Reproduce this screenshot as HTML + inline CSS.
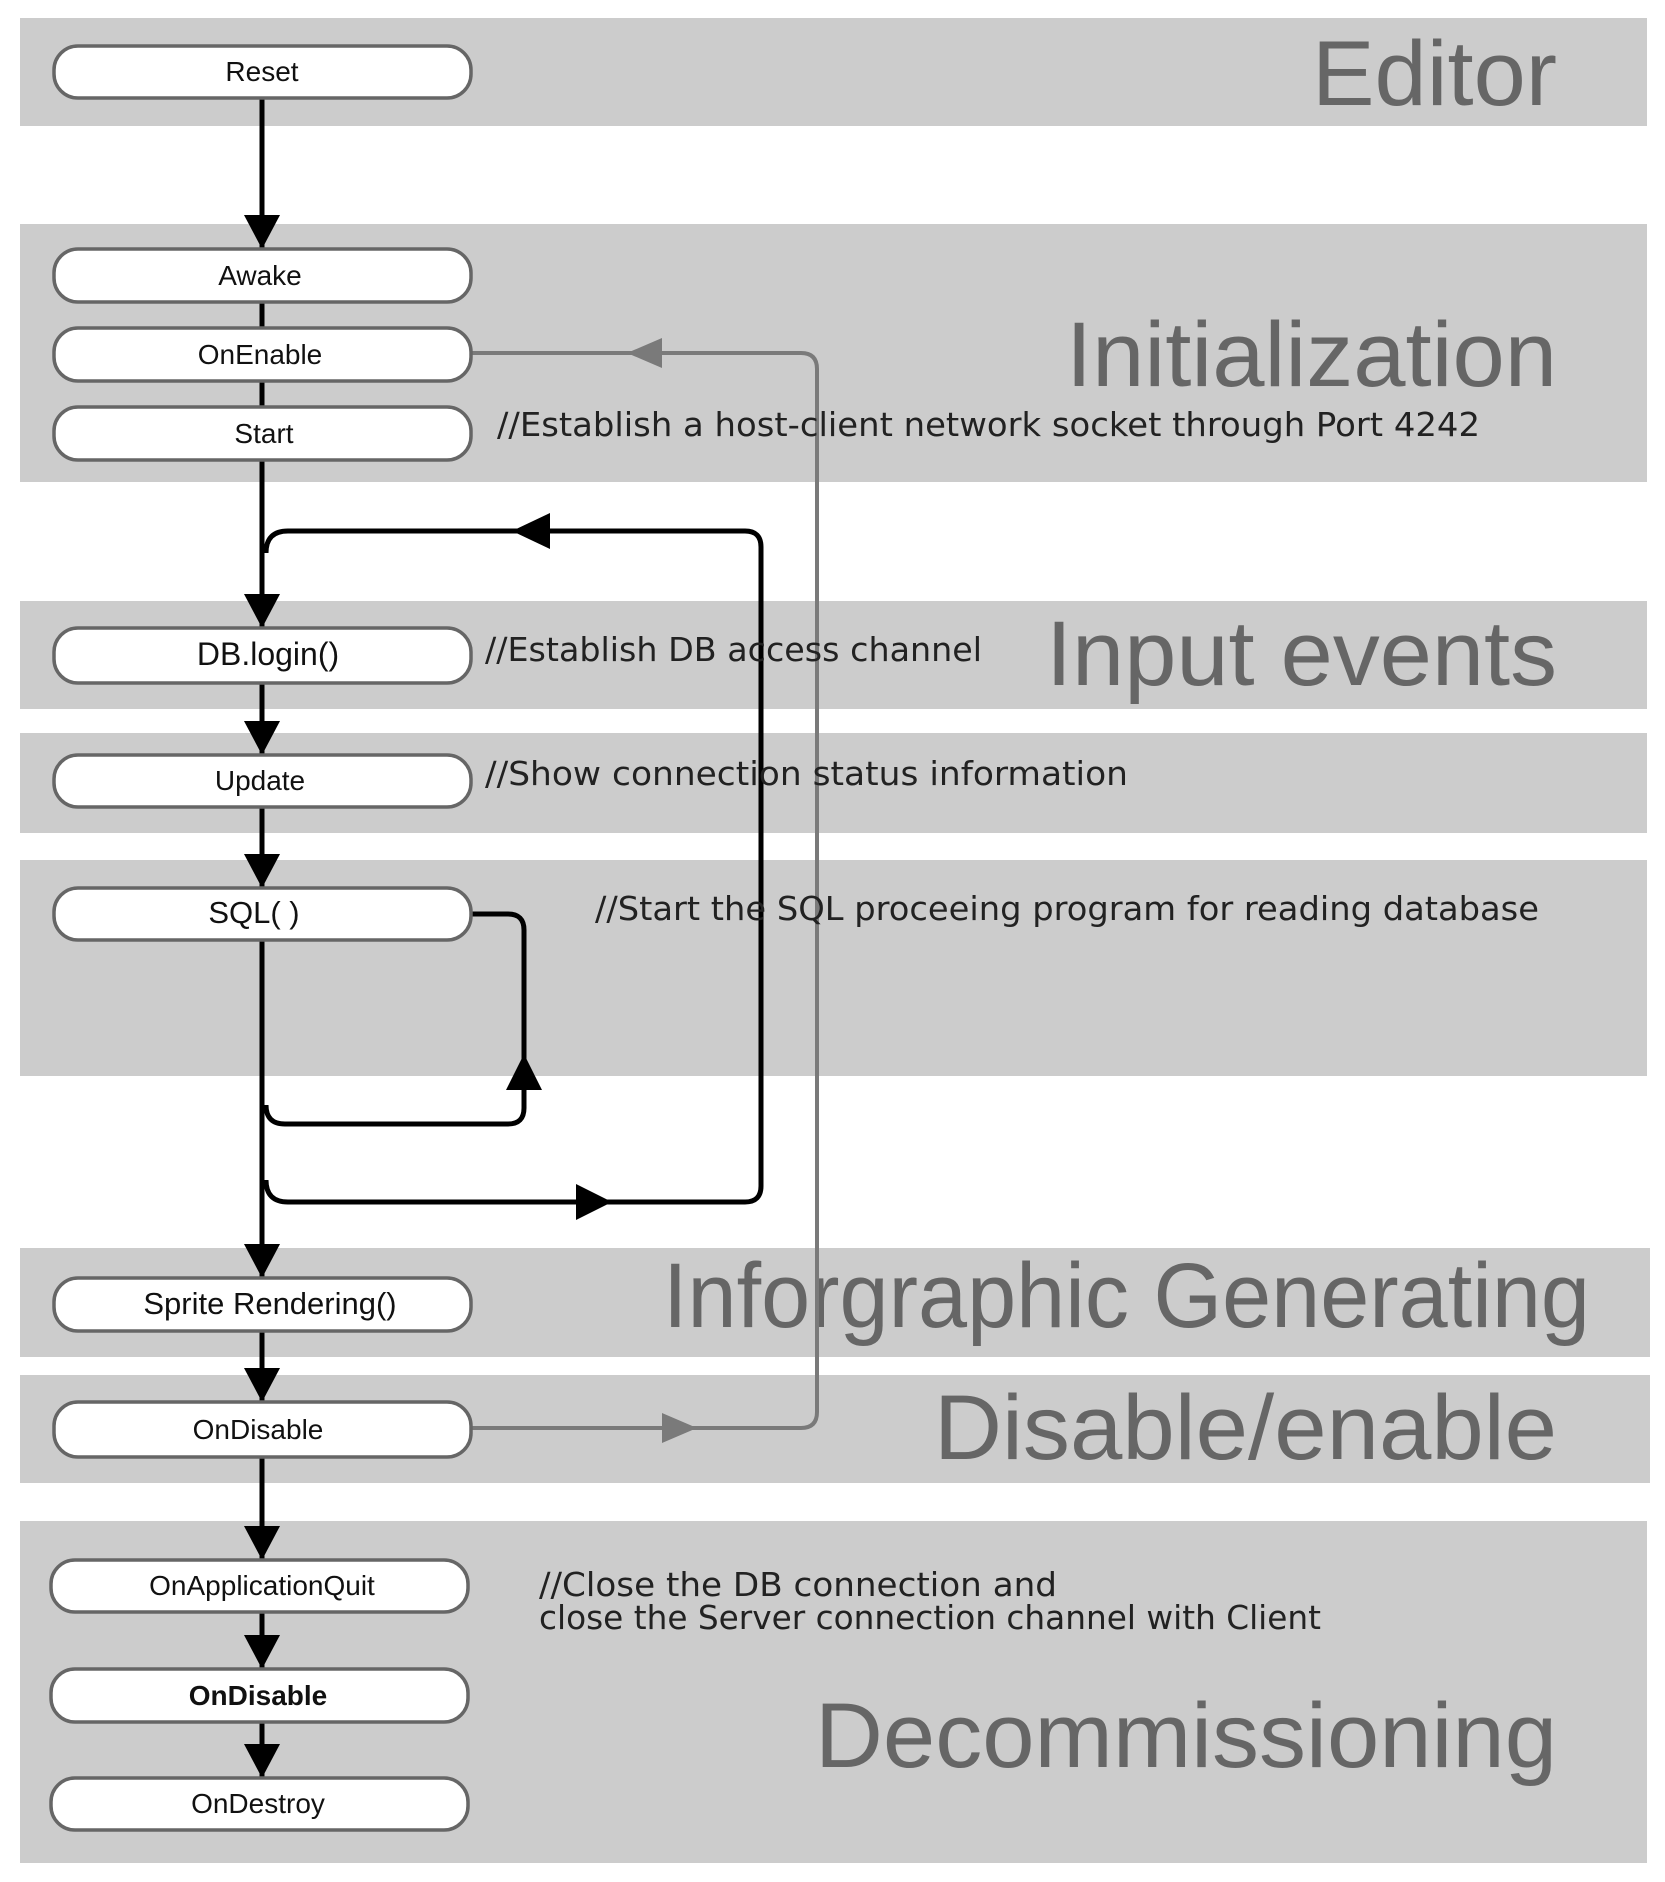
<!DOCTYPE html>
<html><head><meta charset="utf-8"><style>
html,body{margin:0;padding:0;background:#fff;}
svg{display:block;}
.n{font-family:"Liberation Sans",sans-serif;font-size:28px;fill:#111;text-anchor:middle;}
.c{font-family:"DejaVu Sans","Liberation Sans",sans-serif;font-size:33px;fill:#222;}
.b{font-family:"Liberation Sans",sans-serif;font-size:92px;fill:#666;}
</style></head><body>
<svg width="1665" height="1882" viewBox="0 0 1665 1882" xmlns="http://www.w3.org/2000/svg">
<g fill="#cccccc">
<rect x="20" y="18" width="1627" height="108"/>
<rect x="20" y="224" width="1627" height="258"/>
<rect x="20" y="601" width="1627" height="108"/>
<rect x="20" y="733" width="1627" height="100"/>
<rect x="20" y="860" width="1627" height="216"/>
<rect x="20" y="1248" width="1630" height="109"/>
<rect x="20" y="1375" width="1630" height="108"/>
<rect x="20" y="1521" width="1627" height="342"/>
</g>
<g class="b">
<text x="1312" y="105" textLength="245" lengthAdjust="spacingAndGlyphs">Editor</text>
<text x="1066" y="386" textLength="491" lengthAdjust="spacingAndGlyphs">Initialization</text>
<text x="1046" y="685" textLength="511" lengthAdjust="spacingAndGlyphs">Input events</text>
<text x="663" y="1327" textLength="927" lengthAdjust="spacingAndGlyphs">Inforgraphic Generating</text>
<text x="934" y="1459" textLength="623" lengthAdjust="spacingAndGlyphs">Disable/enable</text>
<text x="815" y="1767" textLength="742" lengthAdjust="spacingAndGlyphs">Decommissioning</text>
</g>
<!-- gray loop -->
<path d="M471,353 L801,353 Q817,353 817,369 L817,1412 Q817,1428 801,1428 L471,1428" fill="none" stroke="#7a7a7a" stroke-width="4"/>
<polygon points="627,353 662,338 662,368" fill="#7a7a7a"/>
<polygon points="697,1428 662,1413 662,1443" fill="#7a7a7a"/>
<!-- main line -->
<line x1="262" y1="98" x2="262" y2="1830" stroke="#000" stroke-width="5"/>
<!-- big loop -->
<path d="M266,1180 Q266,1202 288,1202 L745,1202 Q761,1202 761,1186 L761,547 Q761,531 745,531 L288,531 Q266,531 266,553" fill="none" stroke="#000" stroke-width="5"/>
<polygon points="512,531 550,513 550,549" fill="#000"/>
<polygon points="612,1202 576,1184 576,1220" fill="#000"/>
<!-- small loop -->
<path d="M471,914 L508,914 Q524,914 524,930 L524,1108 Q524,1124 508,1124 L285,1124 Q266,1124 266,1105" fill="none" stroke="#000" stroke-width="5"/>
<polygon points="524,1054 506,1090 542,1090" fill="#000"/>
<!-- arrowheads down -->
<g fill="#000">
<polygon points="244,215 280,215 262,249"/>
<polygon points="244,594 280,594 262,628"/>
<polygon points="244,721 280,721 262,755"/>
<polygon points="244,854 280,854 262,888"/>
<polygon points="244,1244 280,1244 262,1278"/>
<polygon points="244,1368 280,1368 262,1402"/>
<polygon points="244,1526 280,1526 262,1560"/>
<polygon points="244,1635 280,1635 262,1669"/>
<polygon points="244,1744 280,1744 262,1778"/>
</g>
<!-- nodes -->
<g fill="#fff" stroke="#666" stroke-width="3.5">
<rect x="54" y="46" width="417" height="52" rx="24"/>
<rect x="54" y="249" width="417" height="53" rx="24"/>
<rect x="54" y="328" width="417" height="53" rx="24"/>
<rect x="54" y="407" width="417" height="53" rx="24"/>
<rect x="54" y="628" width="417" height="55" rx="24"/>
<rect x="54" y="755" width="417" height="52" rx="24"/>
<rect x="54" y="888" width="417" height="52" rx="24"/>
<rect x="54" y="1278" width="417" height="53" rx="24"/>
<rect x="54" y="1402" width="417" height="55" rx="24"/>
<rect x="51" y="1560" width="417" height="52" rx="24"/>
<rect x="51" y="1669" width="417" height="53" rx="24"/>
<rect x="51" y="1778" width="417" height="52" rx="24"/>
</g>
<g class="n">
<text x="262" y="81">Reset</text>
<text x="260" y="285">Awake</text>
<text x="260" y="364">OnEnable</text>
<text x="264" y="443">Start</text>
<text x="268" y="665" font-size="32">DB.login()</text>
<text x="260" y="790">Update</text>
<text x="254" y="923" font-size="31">SQL( )</text>
<text x="270" y="1314" font-size="31">Sprite Rendering()</text>
<text x="258" y="1439">OnDisable</text>
<text x="262" y="1595">OnApplicationQuit</text>
<text x="258" y="1705" font-weight="bold">OnDisable</text>
<text x="258" y="1813">OnDestroy</text>
</g>
<g class="c">
<text x="497" y="436" textLength="983" lengthAdjust="spacingAndGlyphs">//Establish a host-client network socket through Port 4242</text>
<text x="485" y="661" textLength="497" lengthAdjust="spacingAndGlyphs">//Establish DB access channel</text>
<text x="485" y="785" textLength="643" lengthAdjust="spacingAndGlyphs">//Show connection status information</text>
<text x="595" y="920" textLength="944" lengthAdjust="spacingAndGlyphs">//Start the SQL proceeing program for reading database</text>
<text x="539" y="1596" textLength="518" lengthAdjust="spacingAndGlyphs">//Close the DB connection and</text>
<text x="539" y="1629" textLength="782" lengthAdjust="spacingAndGlyphs">close the Server connection channel with Client</text>
</g>
</svg>
</body></html>
